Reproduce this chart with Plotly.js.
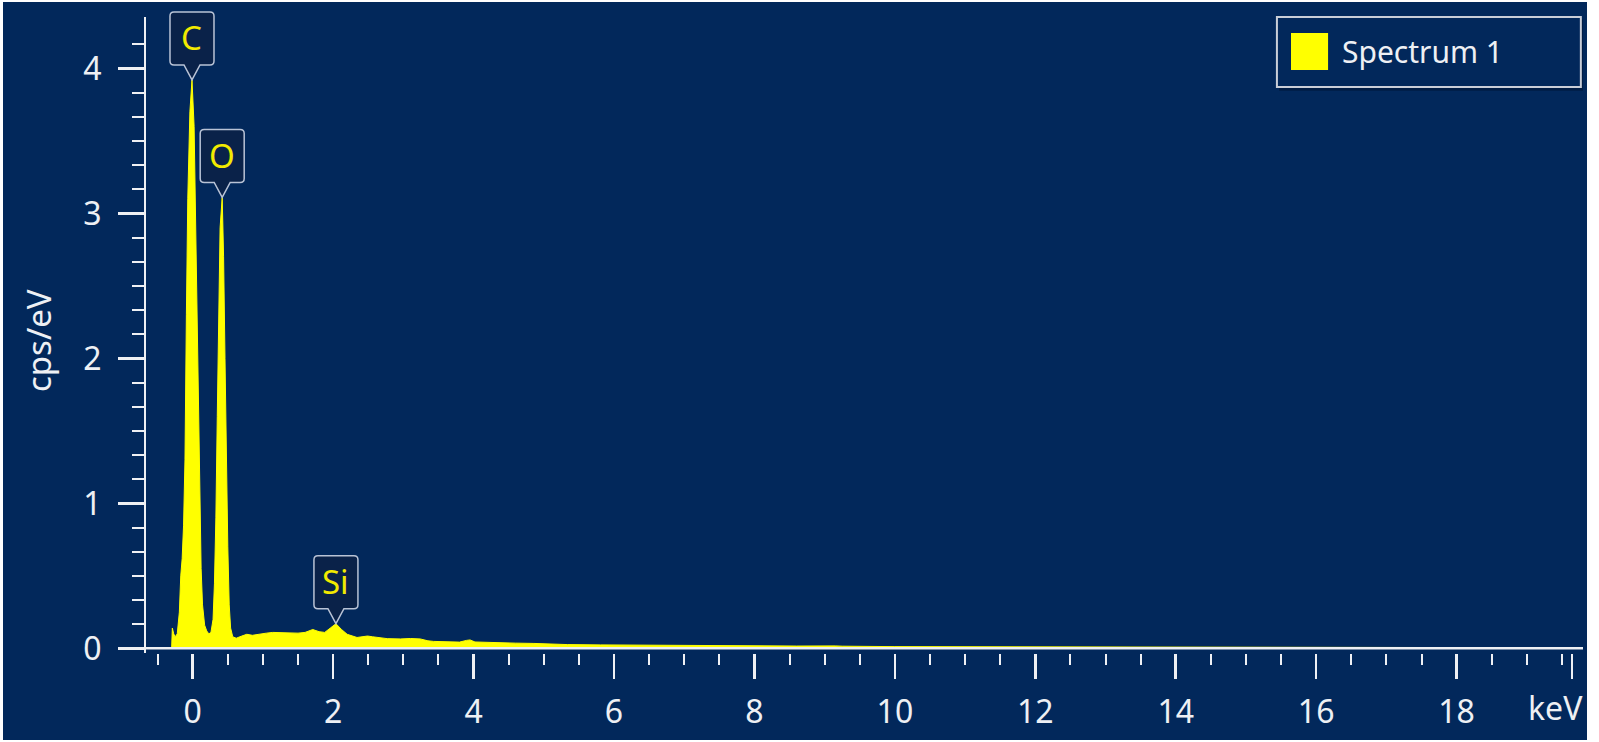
<!DOCTYPE html>
<html>
<head>
<meta charset="utf-8">
<script src="https://cdn.plot.ly/plotly-3.0.1.min.js"></script>
<style>
  html, body { margin: 0; padding: 0; background: #ffffff; }
  #divPlot { position: absolute; left: 3px; top: 2px; width: 1584px; height: 738px; }
</style>
</head>
<body>
<div id="divPlot"></div>
<script>
/* Spectrum: energy (keV) against cps/eV */
var energy = [
  -0.30, -0.29, -0.27, -0.25, -0.22, -0.19, -0.17, -0.15, -0.13, -0.11,
  -0.09, -0.07, -0.04, -0.01, 0.02, 0.04, 0.06, 0.08, 0.10, 0.12,
  0.14, 0.17, 0.20, 0.23, 0.26, 0.29, 0.31, 0.33, 0.35, 0.37,
  0.39, 0.42, 0.44, 0.46, 0.48, 0.50, 0.52, 0.54, 0.57, 0.62,
  0.70, 0.77, 0.85, 0.96, 1.05, 1.14, 1.25, 1.39, 1.50, 1.60,
  1.71, 1.80, 1.88, 1.96, 2.04, 2.12, 2.20, 2.34, 2.49, 2.56,
  2.63, 2.77, 2.96, 3.10, 3.24, 3.35, 3.43, 3.60, 3.80, 3.90,
  3.95, 4.02, 4.20, 4.40, 4.60, 4.86, 5.10, 5.34, 5.81, 6.50,
  7.50, 8.60, 9.15, 9.25, 10.0, 11.0, 12.0, 13.0, 14.0, 15.0,
  16.0, 17.0, 18.0, 19.0, 19.8
];
var cps = [
  0, 0.14, 0.10, 0.08, 0.10, 0.25, 0.50, 0.62, 0.85, 1.30,
  2.30, 3.10, 3.70, 3.92, 3.60, 3.00, 2.30, 1.60, 1.00, 0.55,
  0.30, 0.16, 0.12, 0.10, 0.11, 0.20, 0.45, 0.90, 1.60, 2.40,
  2.90, 3.11, 2.70, 2.00, 1.30, 0.70, 0.30, 0.14, 0.08, 0.07,
  0.085, 0.097, 0.09, 0.10, 0.105, 0.11, 0.108, 0.11, 0.105, 0.11,
  0.13, 0.115, 0.11, 0.14, 0.17, 0.13, 0.097, 0.075, 0.085, 0.08,
  0.074, 0.067, 0.065, 0.068, 0.065, 0.052, 0.048, 0.044, 0.043, 0.055,
  0.058, 0.044, 0.040, 0.038, 0.036, 0.034, 0.030, 0.026, 0.024, 0.021,
  0.018, 0.016, 0.017, 0.015, 0.012, 0.011, 0.010, 0.009, 0.008, 0.007,
  0.006, 0.006, 0.005, 0.005, 0.004
];
var seriesName = 'Spectrum 1';

// element labels and where they point
var peakLabels = ['C', 'O', 'Si'];
var peakEnergy = [-0.01, 0.42, 2.04];
var peakHeight = [3.92, 3.11, 0.17];

// axis ticks
var xTickVals = [0, 2, 4, 6, 8, 10, 12, 14, 16, 18, 19.64];
var xTickText = ['0', '2', '4', '6', '8', '10', '12', '14', '16', '18', ''];
var yTickVals = [0, 1, 2, 3, 4];
var xUnit = 'keV';
var yUnit = 'cps/eV';

var navy = '#02285b';
var white = '#eef0f4';
var yellow = '#ffff00';
var font = 'Noto Sans, Open Sans, sans-serif';

var xRange = [-0.665, 19.80];
var yRange = [-0.032, 4.354];

var yMinor = [];
for (var i = 1; i <= 25; i++) { if (i % 6 !== 0) yMinor.push(i / 6); }

var trace1 = {
  x : energy,
  y : cps,
  type : 'scatter',
  mode : 'lines',
  fill : 'tozeroy',
  fillcolor : yellow,
  line : {color : yellow, width : 1},
  name : seriesName,
  showlegend : false,
  hoverinfo : 'x+y'
};

/* callout boxes: drawn in pixels around each peak tip */
var calloutPath = 'M0,0 L-8,15 L-18,15 Q-22,15 -22,19 L-22,64 Q-22,68 -18,68 ' +
                  'L18,68 Q22,68 22,64 L22,19 Q22,15 18,15 L8,15 Z';

var shapes = [
  // x axis line at zero, sitting just above the ticks
  {type : 'line', xref : 'paper', yref : 'y', x0 : 0, x1 : 1, y0 : 0, y1 : 0,
   line : {color : white, width : 2.5}},
  // legend frame and swatch
  {type : 'rect', xref : 'paper', yref : 'paper', x0 : 0.7885, x1 : 1.0, y0 : 0.884, y1 : 0.996,
   fillcolor : '#011d45', line : {width : 0}},
  {type : 'rect', xref : 'paper', yref : 'paper', x0 : 0.787, x1 : 0.9985, y0 : 0.890, y1 : 1.0,
   fillcolor : navy, line : {color : '#c9ced8', width : 2}},
  {type : 'rect', xref : 'paper', yref : 'paper', x0 : 0.7968, x1 : 0.8226, y0 : 0.9167, y1 : 0.9748,
   fillcolor : yellow, line : {width : 0}}
];

var annotations = [
  {xref : 'paper', yref : 'paper', x : 0.8309, y : 0.9458, xanchor : 'left', yanchor : 'middle',
   text : seriesName, showarrow : false, font : {family : font, size : 30, color : white}},
  {xref : 'paper', yref : 'paper', x : -0.0752, y : 0.492, xanchor : 'center', yanchor : 'middle',
   text : yUnit, textangle : -90, showarrow : false, font : {family : font, size : 33, color : white}},
  {xref : 'x', yref : 'paper', x : 19.41, y : -0.0855, xanchor : 'center', yanchor : 'middle',
   text : xUnit, showarrow : false, font : {family : font, size : 32, color : white}}
];

for (var k = 0; k < peakLabels.length; k++) {
  // paper y so the box may rise above the plot top without being clipped
  var yPaper = (peakHeight[k] - yRange[0]) / (yRange[1] - yRange[0]);
  shapes.push({
    type : 'path', xref : 'x', yref : 'paper',
    xsizemode : 'pixel', ysizemode : 'pixel',
    xanchor : peakEnergy[k], yanchor : yPaper,
    path : calloutPath,
    fillcolor : '#0a2249', line : {color : '#b9c3d6', width : 1.5}
  });
  annotations.push({
    xref : 'x', yref : 'y', x : peakEnergy[k], y : peakHeight[k],
    yshift : 42, xanchor : 'center', yanchor : 'middle', showarrow : false,
    text : peakLabels[k], font : {family : font, size : 33, color : '#f2ea00'}
  });
}

var layout = {
  width : 1584,
  height : 738,
  margin : {l : 143, r : 4, t : 15, b : 87},
  paper_bgcolor : navy,
  plot_bgcolor : navy,
  showlegend : false,
  font : {family : font, color : white},
  xaxis : {
    range : xRange,
    tickmode : 'array',
    tickvals : xTickVals,
    ticktext : xTickText,
    ticks : 'outside',
    ticklen : 25,
    tickwidth : 2.5,
    tickcolor : white,
    ticklabelstandoff : 6,
    tickfont : {family : font, size : 32, color : white},
    minor : {dtick : 0.5, tick0 : 0, ticks : 'outside', ticklen : 11, tickwidth : 2, tickcolor : white},
    showline : false,
    showgrid : false,
    zeroline : false
  },
  yaxis : {
    range : yRange,
    tickmode : 'array',
    tickvals : yTickVals,
    ticks : 'outside',
    ticklen : 26,
    tickwidth : 2.5,
    tickcolor : white,
    ticklabelstandoff : 10,
    tickfont : {family : font, size : 32, color : white},
    minor : {tickmode : 'array', tickvals : yMinor, ticks : 'outside', ticklen : 12, tickwidth : 2, tickcolor : white},
    showline : true,
    linecolor : white,
    linewidth : 2,
    showgrid : false,
    zeroline : false
  },
  shapes : shapes,
  annotations : annotations
};

Plotly.newPlot('divPlot', [ trace1 ], layout, {displayModeBar : false, staticPlot : true});
</script>
</body>
</html>
